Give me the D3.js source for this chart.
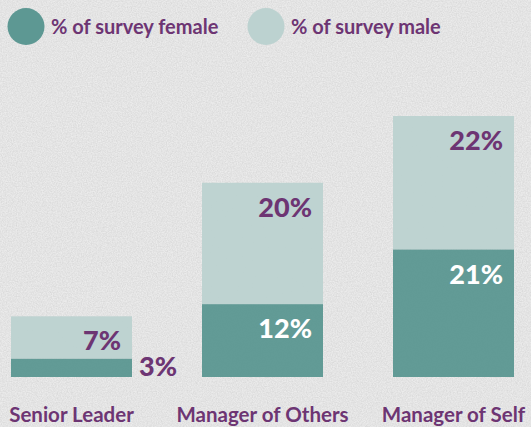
<!DOCTYPE html>
<html lang="en">
  <head>
    <meta charset="UTF-8" />
    <title>Survey by level</title>
    <style>
      body { margin: 0; background: #e7e7e7; }
      svg { display: block; }
      text { font-family: Lato, "Open Sans", sans-serif; font-weight: 700; }
      .big { font-weight: 900; }
    </style>
  </head>
  <body>
    <script src="https://cdn.jsdelivr.net/npm/d3@7"></script>
    <script>
    // data
    var categories = ["Senior Leader", "Manager of Others", "Manager of Self"];
    var female = [3, 12, 21];
    var male = [7, 20, 22];
    var seriesNames = ["% of survey female", "% of survey male"];

    var w = 531, h = 427;
    var base = 377;           // bottom of the bars
    var darkTeal = "#5d9893", lightTeal = "#bcd2d0", purple = "#6d3573";

    var svg = d3.select("body").append("svg")
      .attr("width", w)
      .attr("height", h);

    // paper-ish noise background
    var defs = svg.append("defs");
    var f = defs.append("filter").attr("id", "grain").attr("x", 0).attr("y", 0).attr("width", "100%").attr("height", "100%");
    f.append("feTurbulence").attr("type", "fractalNoise").attr("baseFrequency", 0.8).attr("numOctaves", 3).attr("seed", 3);
    f.append("feColorMatrix").attr("type", "matrix")
      .attr("values", "0 0 0 0 0.45  0 0 0 0 0.45  0 0 0 0 0.45  0 0 0 0.5 -0.12");
    svg.append("rect").attr("width", w).attr("height", h).attr("fill", "#ebebeb");
    svg.append("rect").attr("width", w).attr("height", h).attr("filter", "url(#grain)");

    var x = d3.scaleBand()
      .domain(categories)
      .range([11, 514])
      .paddingInner(0.3665)
      .paddingOuter(0);

    var y = d3.scaleLinear()
      .domain([0, 43])
      .range([base, 116]);

    var rows = categories.map(function(c, i) {
      return { cat: c, female: female[i], male: male[i] };
    });

    // male segment (top)
    svg.selectAll("rect.male")
      .data(rows)
      .enter().append("rect")
      .attr("class", "male")
      .attr("x", function(d) { return x(d.cat); })
      .attr("width", x.bandwidth())
      .attr("y", function(d) { return y(d.female + d.male); })
      .attr("height", function(d) { return y(d.female) - y(d.female + d.male); })
      .attr("fill", lightTeal)
      .attr("fill-opacity", 0.95);

    // female segment (bottom)
    svg.selectAll("rect.female")
      .data(rows)
      .enter().append("rect")
      .attr("class", "female")
      .attr("x", function(d) { return x(d.cat); })
      .attr("width", x.bandwidth())
      .attr("y", function(d) { return y(d.female); })
      .attr("height", function(d) { return y(0) - y(d.female); })
      .attr("fill", darkTeal)
      .attr("fill-opacity", 0.97);

    // value labels
    svg.selectAll("text.mlabel")
      .data(rows)
      .enter().append("text")
      .attr("class", "mlabel big")
      .attr("x", function(d) { return x(d.cat) + x.bandwidth() - 11; })
      .attr("y", function(d) { return y(d.female + d.male) + 34; })
      .attr("text-anchor", "end")
      .style("font-size", "27px")
      .attr("fill", purple)
      .text(function(d) { return d.male + "%"; });

    svg.selectAll("text.flabel")
      .data(rows)
      .enter().append("text")
      .attr("class", "flabel big")
      .attr("x", function(d) {
        // small segment: label sits outside the bar
        return d.female < 5 ? x(d.cat) + x.bandwidth() + 7 : x(d.cat) + x.bandwidth() - 11;
      })
      .attr("y", function(d) { return d.female < 5 ? y(0) - 1 : y(d.female) + 34; })
      .attr("text-anchor", function(d) { return d.female < 5 ? "start" : "end"; })
      .style("font-size", "27px")
      .attr("fill", function(d) { return d.female < 5 ? purple : "#ffffff"; })
      .text(function(d) { return d.female + "%"; });

    // category labels
    svg.selectAll("text.cat")
      .data(categories)
      .enter().append("text")
      .attr("class", "cat")
      .attr("x", function(d) { return x(d) + x.bandwidth() / 2; })
      .attr("y", 422)
      .attr("text-anchor", "middle")
      .style("font-size", "20.5px")
      .attr("fill", purple)
      .text(function(d) { return d; });

    // legend
    var legX = [26, 266];
    var legColors = [darkTeal, lightTeal];
    var leg = svg.selectAll("g.leg")
      .data(seriesNames)
      .enter().append("g")
      .attr("class", "leg")
      .attr("transform", function(d, i) { return "translate(" + legX[i] + ",26.5)"; });
    leg.append("circle")
      .attr("r", 18.5)
      .attr("fill", function(d, i) { return legColors[i]; });
    leg.append("text")
      .attr("x", 25)
      .attr("y", 7)
      .style("font-size", "20px")
      .attr("fill", purple)
      .text(function(d) { return d; });
    </script>
  </body>
</html>
